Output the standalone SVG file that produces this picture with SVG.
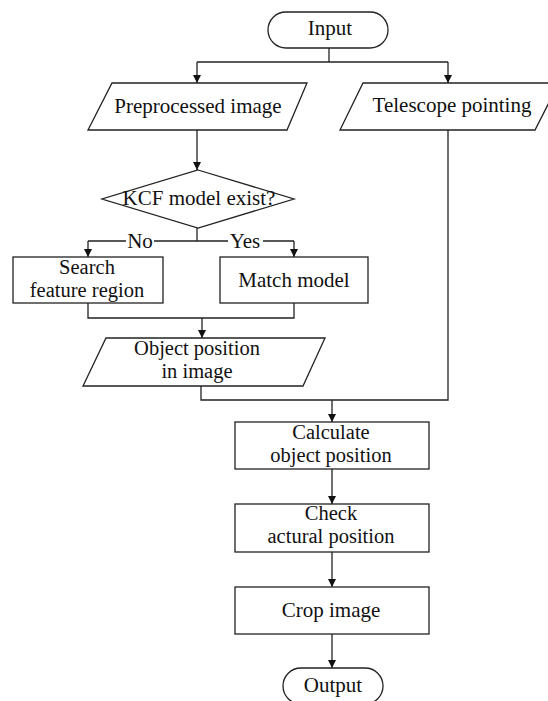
<svg xmlns="http://www.w3.org/2000/svg" width="548" height="701" viewBox="0 0 548 701">
<defs>
<marker id="arr" markerWidth="10" markerHeight="10" refX="8" refY="4" orient="auto" markerUnits="userSpaceOnUse">
<path d="M0,0 L8,4 L0,8 Z" fill="#111"/>
</marker>
<style>
.s{fill:#fff;stroke:#222;stroke-width:1.3}
.c{fill:none;stroke:#222;stroke-width:1.3}
text{font-family:'Liberation Serif',serif;font-size:21px;fill:#111;text-anchor:middle}
.m{font-size:20.5px}
</style>
</defs>
<rect width="548" height="701" fill="#fff"/>
<g id="connectors">
<path class="c" d="M329,48 V62"/>
<path class="c" d="M197,62 H448"/>
<path class="c" d="M197,62 V83" marker-end="url(#arr)"/>
<path class="c" d="M448,62 V83" marker-end="url(#arr)"/>
<path class="c" d="M197,130 V170" marker-end="url(#arr)"/>
<path class="c" d="M197,228 V241"/>
<path class="c" d="M88,241 H126 M154,241 H228 M263,241 H294"/>
<path class="c" d="M88,241 V257" marker-end="url(#arr)"/>
<path class="c" d="M294,241 V257" marker-end="url(#arr)"/>
<text font-family="Liberation Serif, serif" x="140" y="247.5">No</text>
<text font-family="Liberation Serif, serif" x="245" y="247.5">Yes</text>
<path class="c" d="M88,303 V318 H294 V303"/>
<path class="c" d="M202,318 V338" marker-end="url(#arr)"/>
<path class="c" d="M201,386 V400 H448 V130"/>
<path class="c" d="M332,400 V422" marker-end="url(#arr)"/>
<path class="c" d="M332,469 V504" marker-end="url(#arr)"/>
<path class="c" d="M332,552 V587" marker-end="url(#arr)"/>
<path class="c" d="M332,634 V668" marker-end="url(#arr)"/>
</g>
<g id="input">
<rect class="s" x="268" y="12" width="120" height="36" rx="18"/>
<text font-family="Liberation Serif, serif" x="330" y="35">Input</text>
</g>
<g id="preprocessed">
<polygon class="s" points="112,83 307,83 287,130 88,130"/>
<text font-family="Liberation Serif, serif" x="198" y="113">Preprocessed image</text>
</g>
<g id="telescope">
<polygon class="s" points="363,83 559,83 535,130 340,130"/>
<text font-family="Liberation Serif, serif" x="452" y="112">Telescope pointing</text>
</g>
<g id="kcf">
<polygon class="s" points="198,170 294,199 198,228 102,199"/>
<text font-family="Liberation Serif, serif" x="199" y="205">KCF model exist?</text>
</g>
<g id="search">
<rect class="s" x="13" y="257" width="150" height="46"/>
<text class="m" font-family="Liberation Serif, serif" x="87" y="274">Search</text>
<text class="m" font-family="Liberation Serif, serif" x="87" y="297">feature region</text>
</g>
<g id="match">
<rect class="s" x="220" y="257" width="148" height="46"/>
<text font-family="Liberation Serif, serif" x="294" y="287">Match model</text>
</g>
<g id="objpos">
<polygon class="s" points="106,338 325,338 303,386 83,386"/>
<text class="m" font-family="Liberation Serif, serif" x="197" y="355">Object position</text>
<text class="m" font-family="Liberation Serif, serif" x="197" y="378">in image</text>
</g>
<g id="calculate">
<rect class="s" x="235" y="422" width="194" height="47"/>
<text class="m" font-family="Liberation Serif, serif" x="331" y="439">Calculate</text>
<text class="m" font-family="Liberation Serif, serif" x="331" y="462">object position</text>
</g>
<g id="check">
<rect class="s" x="235" y="504" width="194" height="48"/>
<text class="m" font-family="Liberation Serif, serif" x="331" y="520">Check</text>
<text class="m" font-family="Liberation Serif, serif" x="331" y="543">actural position</text>
</g>
<g id="crop">
<rect class="s" x="235" y="587" width="194" height="47"/>
<text font-family="Liberation Serif, serif" x="331" y="617">Crop image</text>
</g>
<g id="output">
<rect class="s" x="283" y="668" width="100" height="36" rx="18"/>
<text font-family="Liberation Serif, serif" x="333" y="692">Output</text>
</g>
</svg>
